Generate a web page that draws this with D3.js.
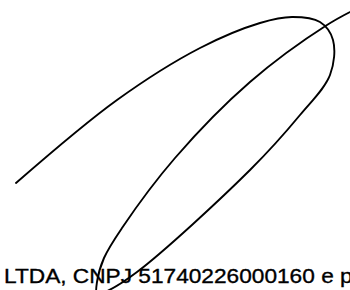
<!DOCTYPE html>
<html>
<head>
<meta charset="utf-8">
<script src="https://cdn.jsdelivr.net/npm/d3@7"></script>
<style>
  body { margin: 0; background: #fff; }
  svg { display: block; }
</style>
</head>
<body>
<svg></svg>
<script>
const width = 350, height = 290;

// signature stroke (x, y in page units)
const strokeX = [16, 117, 200, 260, 292, 320, 333, 330, 300, 250, 137, 105, 97, 97, 104, 122, 175, 250, 327, 362];
const strokeY = [183, 100, 48, 23, 17, 22, 40, 75, 115, 170, 272, 292, 294, 282, 258, 228, 158, 82, 25, 6];

const caption = "LTDA, CNPJ 51740226000160 e p";

const svg = d3.select("svg")
    .attr("width", width)
    .attr("height", height);

svg.append("rect")
    .attr("width", width)
    .attr("height", height)
    .attr("fill", "#fff");

const x = d3.scaleLinear().domain([0, 350]).range([0, width]);
const y = d3.scaleLinear().domain([0, 290]).range([0, height]);

const points = strokeX.map((d, i) => [d, strokeY[i]]);

const line = d3.line()
    .x(d => x(d[0]))
    .y(d => y(d[1]))
    .curve(d3.curveCatmullRom.alpha(0.5));

// caption first, the pen stroke is drawn over it
svg.append("text")
    .attr("transform", `translate(4,${y(283)}) scale(1.08,1)`)
    .style("font-family", "'Liberation Sans', Arial, sans-serif")
    .style("font-size", "21px")
    .style("fill", "#000")
    .style("stroke", "#000")
    .style("stroke-width", 0.35)
    .text(caption);

svg.append("path")
    .datum(points)
    .attr("d", line)
    .attr("fill", "none")
    .attr("stroke", "#000")
    .attr("stroke-width", 1.9)
    .attr("stroke-linecap", "round");
</script>
</body>
</html>
